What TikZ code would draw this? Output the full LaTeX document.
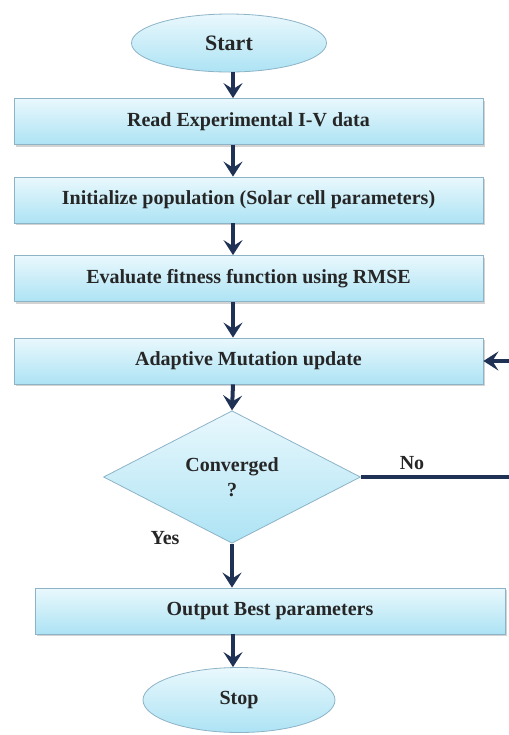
\documentclass[tikz,border=0pt]{standalone}
\usepackage{fontspec}
\setmainfont{Liberation Serif}
\usepackage{tikz}
\usetikzlibrary{positioning,shapes.geometric,shadows,arrows.meta}

\definecolor{navy}{HTML}{1F3255}
\definecolor{edgeblue}{HTML}{8DB3C7}
\definecolor{fillhi}{HTML}{E9F8FD}
\definecolor{filllo}{HTML}{ADE3F4}

\begin{document}
\begin{tikzpicture}[x=0.5pt, y=-0.5pt,
      every node/.style={font=\bfseries\fontsize{10}{12.5}\selectfont, text=black!85},
      blk/.style={draw=edgeblue, top color=fillhi, bottom color=filllo,
                  minimum height=23pt, inner sep=0pt,
                  drop shadow={shadow xshift=1pt, shadow yshift=-1.2pt, opacity=0.35}},
      oval/.style={ellipse, draw=edgeblue, top color=fillhi, bottom color=filllo, inner sep=0pt},
      test/.style={diamond, draw=edgeblue, top color=fillhi, bottom color=filllo,
                   inner sep=0pt, align=center},
      arr/.style={draw=navy, line width=2pt, -{Stealth[length=7.5pt, width=9.5pt, inset=3pt]}},
      wire/.style={draw=navy, line width=1.6pt}]
      \useasboundingbox (0, 0) rectangle (509, 735);
      \node (start) [oval, minimum width=97.5pt, minimum height=29pt,
                     font=\bfseries\fontsize{11}{13}\selectfont] at (229, 43) {Start};
      \node (read) [blk, minimum width=234.5pt] at (248.5, 121.5) {Read Experimental I-V data};
      \node (init) [blk, minimum width=234.5pt] at (248.5, 200) {Initialize population (Solar cell parameters)};
      \node (eval) [blk, minimum width=234.5pt] at (248.5, 278.5) {Evaluate fitness function using RMSE};
      \node (mut) [blk, minimum width=234.5pt] at (248.5, 361) {Adaptive Mutation update};
      \node (conv) [test, minimum width=128.5pt, minimum height=65pt] at (232, 477) {Converged\\?};
      \node (best) [blk, minimum width=235pt] at (270, 611) {Output Best parameters};
      \node (stop) [oval, minimum width=96pt, minimum height=32.5pt] at (239, 700) {Stop};
      \node (yes) at (165, 538) {Yes};
      \node (no) at (412, 463) {No};
      \coordinate (col) at (233, 0);
      \coordinate (back) at (514, 477);

      \draw[arr] (start.south -| col) -- (read.north -| col);
      \draw[arr] (read.south -| col) -- (init.north -| col);
      \draw[arr] (init.south -| col) -- (eval.north -| col);
      \draw[arr] (eval.south -| col) -- (mut.north -| col);
      \draw[arr] (mut.south -| col) -- (conv.north);
      \draw[arr] (conv.south) -- (best.north -| conv);
      \draw[arr] (best.south -| col) -- (stop.north -| col);
      \draw[wire] (conv.east) -- (back);
      \draw[arr] (back) |- (mut.east);
\end{tikzpicture}
\end{document}
